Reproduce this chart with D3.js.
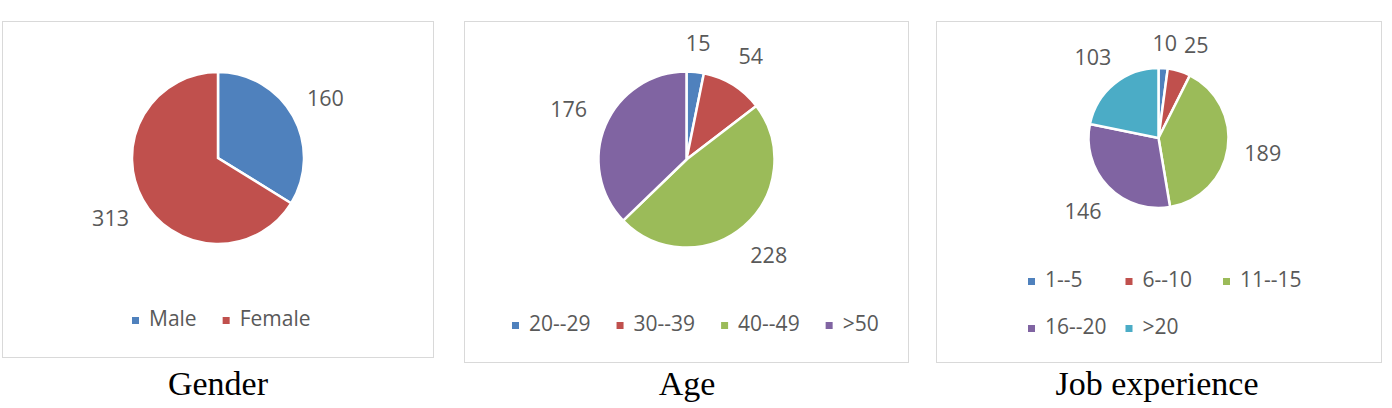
<!DOCTYPE html>
<html>
<head>
<meta charset="utf-8">
<script src="https://cdn.jsdelivr.net/npm/d3@7"></script>
<style>
  html, body { margin: 0; padding: 0; background: #ffffff; }
  svg { display: block; }
</style>
</head>
<body>
<svg id="chart" width="1392" height="408"></svg>
<script>
// ---- data ----
const genderCategories = ["Male", "Female"];
const genderValues = [160, 313];
const ageCategories = ["20--29", "30--39", "40--49", ">50"];
const ageValues = [15, 54, 228, 176];
const jobCategories = ["1--5", "6--10", "11--15", "16--20", ">20"];
const jobValues = [10, 25, 189, 146, 103];
const chartTitles = ["Gender", "Age", "Job experience"];
const palette = ["#4F81BD", "#C0504D", "#9BBB59", "#8064A2", "#4BACC6"];

// ---- layout (not data) ----
const charts = [
  { cats: genderCategories, vals: genderValues, title: chartTitles[0],
    box: [2.5, 21.5, 431, 336], cx: 218, cy: 158, r: 86, gap: 17,
    legend: { x: 132, y: 326, colW: null, rowH: 47 }, titleX: 218 },
  { cats: ageCategories, vals: ageValues, title: chartTitles[1],
    box: [464.5, 21.5, 444, 341], cx: 686.5, cy: 159.5, r: 88, gap: 20,
    legend: { x: 512, y: 331, colW: null, rowH: 47 }, titleX: 687 },
  { cats: jobCategories, vals: jobValues, title: chartTitles[2],
    box: [936.5, 21.5, 445, 341], cx: 1158.5, cy: 138, r: 70, gap: 16,
    legend: { x: 1028, y: 287, colW: 97.5, cols: 3, rowH: 47 }, titleX: 1157 }
];

const svg = d3.select("#chart");
const labelFont = "'Open Sans', 'Noto Sans', sans-serif";
const textColor = "#595959";

charts.forEach(c => {
  const g = svg.append("g");
  // frame
  g.append("rect")
    .attr("x", c.box[0]).attr("y", c.box[1])
    .attr("width", c.box[2]).attr("height", c.box[3])
    .attr("fill", "#ffffff").attr("stroke", "#d9d9d9").attr("stroke-width", 1);

  const color = d3.scaleOrdinal().domain(c.cats).range(palette);
  const pie = d3.pie().sort(null).value(d => d.v);
  const arcs = pie(c.cats.map((k, i) => ({ k, v: c.vals[i] })));
  const arc = d3.arc().innerRadius(0).outerRadius(c.r);

  const pg = g.append("g").attr("transform", `translate(${c.cx},${c.cy})`);
  pg.selectAll("path").data(arcs).join("path")
    .attr("d", arc)
    .attr("fill", d => color(d.data.k))
    .attr("stroke", "#ffffff")
    .attr("stroke-width", 2.5)
    .attr("stroke-linejoin", "miter");

  // data labels (outside end)
  const boxes = [];
  arcs.forEach(d => {
    const a = (d.startAngle + d.endAngle) / 2;
    const t = pg.append("text")
      .attr("text-anchor", "middle")
      .attr("dy", "0.36em")
      .attr("font-family", labelFont)
      .attr("font-size", 21.5)
      .attr("fill", textColor)
      .text(d.data.v);
    const w = t.node().getComputedTextLength();
    const h = 16;
    const dist = c.r + c.gap + Math.abs(Math.sin(a)) * w / 2 + Math.abs(Math.cos(a)) * h / 2;
    let x = dist * Math.sin(a);
    const y = -dist * Math.cos(a);
    // simple overlap avoidance with previous labels
    boxes.forEach(b => {
      if (Math.abs(b.y - y) < h + 4 && x - w / 2 < b.x + b.w / 2 + 7 && x + w / 2 > b.x - b.w / 2) {
        x = b.x + b.w / 2 + 7 + w / 2;
      }
    });
    boxes.push({ x, y, w });
    t.attr("x", x).attr("y", y);
  });

  // legend
  const lg = g.append("g");
  let lx = c.legend.x, row = 0, col = 0;
  c.cats.forEach((k, i) => {
    if (c.legend.colW) {
      col = i % c.legend.cols; row = Math.floor(i / c.legend.cols);
      lx = c.legend.x + col * c.legend.colW;
    }
    const ly = c.legend.y + row * c.legend.rowH;
    lg.append("rect")
      .attr("x", lx).attr("y", ly - 9)
      .attr("width", 7).attr("height", 7)
      .attr("fill", color(k));
    const t = lg.append("text")
      .attr("x", lx + 17).attr("y", ly)
      .attr("font-family", labelFont)
      .attr("font-size", 21)
      .attr("fill", textColor)
      .text(k);
    if (!c.legend.colW) {
      lx += 17 + t.node().getComputedTextLength() + 26;
    }
  });

  // title below frame
  g.append("text")
    .attr("x", c.titleX).attr("y", 395)
    .attr("text-anchor", "middle")
    .attr("font-family", "'Liberation Serif', 'Times New Roman', serif")
    .attr("font-size", 34)
    .attr("fill", "#000000")
    .text(c.title);
});
</script>
</body>
</html>
